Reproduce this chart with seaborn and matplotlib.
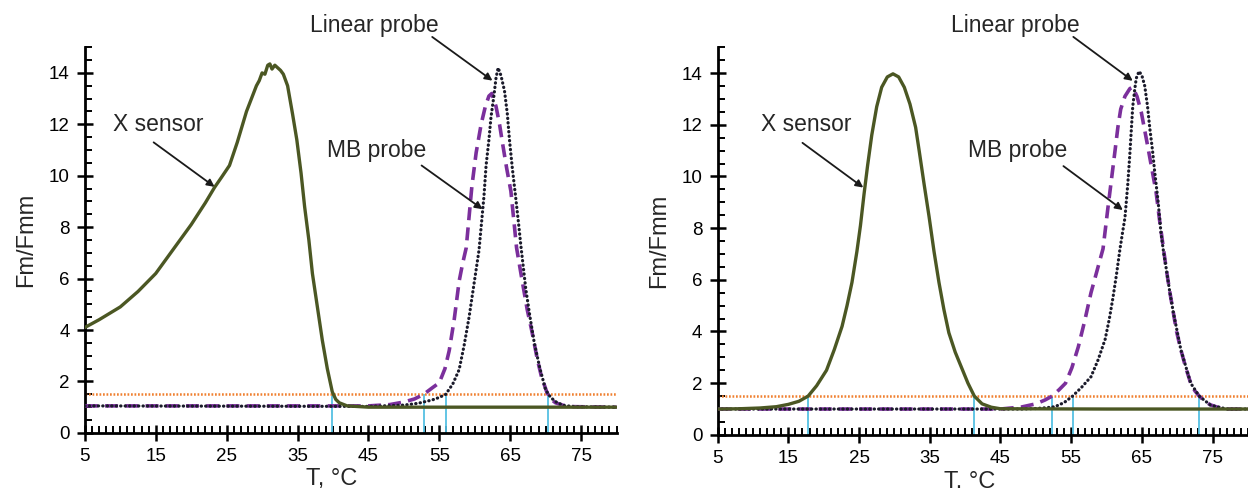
import numpy as np
import pandas as pd
import seaborn as sns
import matplotlib
matplotlib.use("Agg")
import matplotlib.pyplot as plt
from matplotlib.ticker import MultipleLocator, FixedLocator

# ---------------- data ----------------
# Left panel
L_xs_T = [5, 7, 10, 12.5, 15, 17.5, 20, 22, 23.3, 24.3, 25.4, 26.5, 27.8, 29.2, 29.6, 30.0, 30.4, 30.8,
          31.1, 31.4, 31.8, 32.2, 32.6, 33.0, 33.6, 34.3, 34.9, 35.5, 36.0, 36.6, 37.1, 37.8,
          38.5, 39.2, 39.9, 40.4, 40.9, 42, 45, 60, 80]
L_xs_F = [4.1, 4.4, 4.9, 5.5, 6.2, 7.15, 8.1, 8.95, 9.55, 9.95, 10.4, 11.3, 12.5, 13.5, 13.7, 14.0, 13.95, 14.3,
          14.35, 14.15, 14.3, 14.2, 14.1, 13.95, 13.5, 12.4, 11.4, 10.1, 8.8, 7.5, 6.2, 4.9,
          3.6, 2.5, 1.6, 1.3, 1.17, 1.05, 1.0, 1.0, 1.0]

L_mb_T = [5, 45, 48, 50, 51.5, 52.8, 54, 55, 55.8, 56.4, 57.1, 57.8, 58.3, 58.8, 59.2, 59.6, 60.2,
          60.9, 61.5, 62.0, 62.4, 63.0, 63.5, 63.9, 64.5, 65.1, 65.9, 66.7, 67.4, 68.1, 68.8,
          69.4, 70.2, 70.8, 71.4, 72.5, 74, 80]
L_mb_F = [1.05, 1.05, 1.1, 1.2, 1.32, 1.5, 1.75, 1.95, 2.5, 3.2, 4.4, 5.9, 6.6, 7.2, 8.4, 9.6, 10.9,
          12.0, 12.7, 13.1, 13.2, 12.7, 12.0, 11.3, 10.3, 9.4, 7.2, 5.9, 4.8, 3.9, 2.9,
          2.2, 1.56, 1.3, 1.17, 1.07, 1.02, 1.0]

L_lin_T = [5, 45, 50, 52, 54, 55, 55.9, 56.9, 57.8, 58.5, 59.2, 59.9, 60.6, 60.9, 61.3, 61.6, 62.0,
           62.3, 62.7, 63.0, 63.3, 63.7, 64.2, 64.6, 64.9, 65.3, 65.8, 66.2, 66.5, 67.2, 67.8,
           68.4, 69.2, 70.0, 70.7, 71.5, 72.5, 74, 80]
L_lin_F = [1.05, 1.03, 1.08, 1.15, 1.28, 1.38, 1.5, 1.9, 2.46, 3.4, 4.5, 5.8, 7.1, 8.0, 9.2, 10.4, 11.4,
           12.3, 13.1, 13.8, 14.2, 13.9, 13.3, 12.4, 11.4, 10.3, 9.1, 8.1, 7.3, 5.6, 4.5,
           3.5, 2.5, 1.68, 1.38, 1.2, 1.07, 1.02, 1.0]

L_cross = [39.9, 52.8, 55.9, 70.3]

# Right panel
R_xs_T = [5, 8, 11, 13.3, 15, 16.5, 17.8, 19, 20.4, 21.5, 22.6, 23.3, 24, 24.7, 25.2, 25.7, 26.2,
          26.8, 27.5, 28.2, 29, 29.8, 30.6, 31.4, 32.2, 33.0, 33.5, 34.2, 34.9, 35.6, 36.3, 37.0,
          37.7, 38.6, 39.5, 40.4, 41.3, 42.4, 43.7, 45, 60, 80]
R_xs_F = [1.0, 1.01, 1.04, 1.09, 1.18, 1.3, 1.5, 1.9, 2.5, 3.3, 4.2, 5.0, 5.9, 7.1, 8.1, 9.3, 10.4,
          11.6, 12.7, 13.45, 13.85, 13.97, 13.85, 13.45, 12.8, 11.9, 11.0, 9.7, 8.45, 7.1, 5.9, 4.85,
          3.95, 3.2, 2.6, 2.0, 1.5, 1.2, 1.07, 1.01, 1.0, 1.0]

R_mb_T = [5, 45, 48, 50, 51.3, 52.3, 53.3, 54.2, 55.1, 56, 56.9, 57.8, 58.7, 59.5, 60.2, 60.7, 61.2,
          61.6, 62, 62.6, 63.3, 63.7, 64.3, 64.9, 65.8, 66.4, 67, 67.5, 68, 68.4, 68.9, 69.4,
          69.9, 70.5, 71.2, 71.9, 72.5, 73.1, 73.9, 74.7, 75.8, 77, 80]
R_mb_F = [1.0, 1.0, 1.08, 1.2, 1.35, 1.5, 1.75, 2.0, 2.6, 3.4, 4.4, 5.5, 6.4, 7.2, 8.8, 9.9, 11.0,
          11.9, 12.6, 13.1, 13.4, 13.45, 13.1, 12.5, 11.2, 10.3, 9.4, 8.3, 7.3, 6.5, 5.6, 4.8,
          4.0, 3.3, 2.6, 2.0, 1.7, 1.5, 1.3, 1.16, 1.06, 1.0, 1.0]

R_lin_T = [5, 48, 50, 51.5, 52.7, 54, 55.2, 56.5, 57.8, 58.8, 59.8, 60.4, 60.9, 61.4, 61.9, 62.3,
           62.6, 63, 63.3, 63.5, 63.7, 64.0, 64.2, 64.6, 65.0, 65.4, 65.8, 66.1, 66.5, 66.8, 67.3,
           67.7, 68.1, 68.4, 68.9, 69.4, 70.5, 71.9, 73.1, 74.7, 77, 80]
R_lin_F = [1.0, 1.0, 1.02, 1.05, 1.09, 1.25, 1.5, 1.85, 2.25, 2.9, 3.7, 4.5, 5.3, 6.2, 7.2, 7.9,
           8.4, 9.7, 10.9, 11.8, 12.7, 13.4, 13.8, 14.07, 13.9, 13.5, 12.7, 11.9, 11.0, 10.2, 9.0,
           7.8, 7.0, 6.5, 5.6, 4.8, 3.3, 2.0, 1.5, 1.15, 1.0, 1.0]

R_cross = [17.8, 41.2, 52.3, 55.2, 73.1]

THRESH = 1.5
x_ticks = [5, 15, 25, 35, 45, 55, 65, 75]
y_ticks = [0, 2, 4, 6, 8, 10, 12, 14]

# ---------------- style ----------------
sns.set_style("ticks")
plt.rcParams['font.family'] = ['Liberation Sans', 'DejaVu Sans']

C_XS = "#4b5723"
C_MB = "#7b2f9c"
C_LIN = "#1a1a2a"
C_THR = "#f08030"
C_CROSS = "#55c0e3"

fig = plt.figure(figsize=(12.48, 4.97), dpi=100)
axL = fig.add_axes([0.068, 0.129, 0.426, 0.776])
axR = fig.add_axes([0.575, 0.125, 0.425, 0.78])


def draw(ax, xs_T, xs_F, mb_T, mb_F, lin_T, lin_F, cross, xlabel, xlabel_x,
         ann):
    ax.vlines(cross, 0, THRESH, color=C_CROSS, lw=1.3, zorder=2)
    ax.axhline(THRESH, color=C_THR, lw=1.8, ls=(0, (0.7, 0.7)), zorder=2)
    sns.lineplot(x=mb_T, y=mb_F, ax=ax, color=C_MB, lw=2.6, sort=False,
                 estimator=None, zorder=3)
    ax.lines[-1].set_dashes((3.6, 2.0))
    sns.lineplot(x=lin_T, y=lin_F, ax=ax, color=C_LIN, lw=2.3, sort=False,
                 estimator=None, zorder=4)
    ln = ax.lines[-1]
    ln.set_linestyle((0, (0.1, 1.3)))
    ln.set_dash_capstyle('round')
    sns.lineplot(x=xs_T, y=xs_F, ax=ax, color=C_XS, lw=2.4, sort=False,
                 estimator=None, zorder=5)

    ax.set_xlim(5, 80)
    ax.set_ylim(0, 15)
    ax.xaxis.set_major_locator(FixedLocator(x_ticks))
    ax.yaxis.set_major_locator(FixedLocator(y_ticks))
    ax.xaxis.set_minor_locator(MultipleLocator(1))
    ax.yaxis.set_minor_locator(MultipleLocator(0.5))
    ax.tick_params(which='major', direction='inout', length=11, width=1.8,
                   labelsize=13.5, colors='black', pad=5.5)
    ax.tick_params(which='minor', direction='in', length=5, width=1.4, colors='black')
    for s in ['top', 'right']:
        ax.spines[s].set_visible(False)
    for s in ['left', 'bottom']:
        ax.spines[s].set_linewidth(2.0)
        ax.spines[s].set_color('black')
    ax.set_ylabel("Fm/Fmm", fontsize=17, labelpad=8)
    ax.set_xlabel(xlabel, fontsize=17, labelpad=0)
    ax.xaxis.set_label_coords(xlabel_x, -0.092)
    ax.grid(False)

    for text, tx, ty, sx, sy, ex, ey in ann:
        ax.text(tx, ty, text, fontsize=16.5, ha='center', va='center', clip_on=False)
        ax.annotate("", xy=(ex, ey), xytext=(sx, sy),
                    arrowprops=dict(arrowstyle='-|>', color='#1a1a1a', lw=1.3,
                                    mutation_scale=11, shrinkA=0, shrinkB=0),
                    annotation_clip=False)


annL = [("X sensor", 15.3, 12.0, 14.7, 11.3, 23.3, 9.57),
        ("Linear probe", 45.8, 15.85, 54.0, 15.4, 62.5, 13.7),
        ("MB probe", 46.1, 11.0, 52.5, 10.4, 61.1, 8.7)]
annR = [("X sensor", 17.5, 12.0, 17.0, 11.3, 25.6, 9.57),
        ("Linear probe", 47.1, 15.85, 55.3, 15.4, 63.7, 13.7),
        ("MB probe", 47.4, 11.0, 53.9, 10.4, 62.3, 8.7)]

draw(axL, L_xs_T, L_xs_F, L_mb_T, L_mb_F, L_lin_T, L_lin_F, L_cross, "T, °C", 0.464, annL)
draw(axR, R_xs_T, R_xs_F, R_mb_T, R_mb_F, R_lin_T, R_lin_F, R_cross, "T. °C", 0.475, annR)

fig.savefig("out.png", dpi=100, facecolor='white')
